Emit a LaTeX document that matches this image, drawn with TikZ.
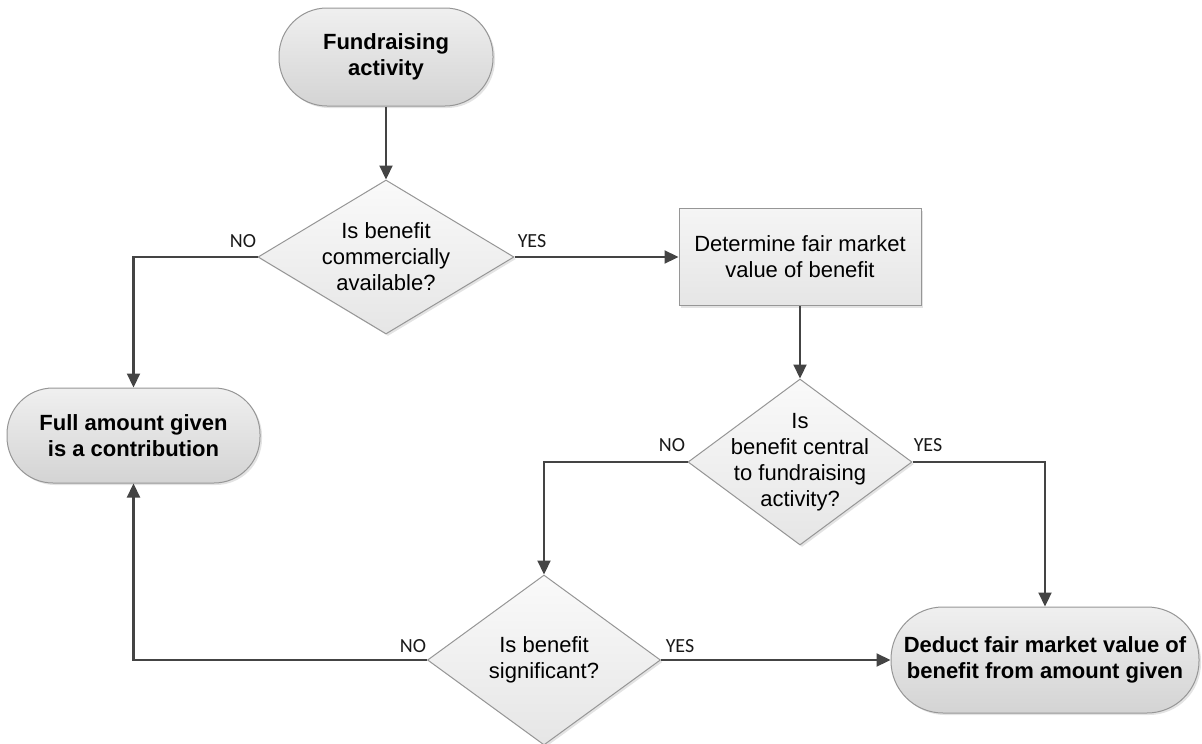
\documentclass[tikz,border=0pt]{standalone}
\usepackage{fontspec}
\setmainfont{Liberation Sans}
\newfontfamily\lblfont{Carlito}
\usetikzlibrary{arrows.meta,shapes.geometric,shadows}
\definecolor{conn}{RGB}{68,68,68}
\definecolor{edge}{RGB}{150,150,150}
\tikzset{
  shad/.style={drop shadow={shadow xshift=2pt,shadow yshift=-2pt,opacity=0.22}},
  term/.style={draw=edge, line width=1pt, rectangle, rounded corners=#1,
    top color=black!6, bottom color=black!17, shad,
    font=\fontsize{22}{25.5}\selectfont\bfseries, align=center, inner sep=0pt},
  dia/.style={draw=edge, line width=1pt, diamond, inner sep=0pt,
    top color=black!2, bottom color=black!10, shad},
  dtext/.style={font=\fontsize{22}{26}\selectfont, align=center, inner sep=0pt},
  procbox/.style={draw=edge, line width=1pt, rectangle,
    top color=black!4, bottom color=black!10, shad,
    font=\fontsize{22}{26}\selectfont, align=center, inner sep=0pt},
  arr/.style={draw=conn, line width=2.2pt, -{Triangle[length=14pt,width=13pt]}},
  lbl/.style={font=\lblfont\fontsize{20}{22}\selectfont, inner sep=0pt, text=black!90}
}
\begin{document}
\begin{tikzpicture}[x=1pt,y=-1pt]
\useasboundingbox (0,0) rectangle (1202,744);
% nodes
\node[term=48pt, minimum width=214pt, minimum height=98pt] (t1) at (386,57) {Fundraising\\activity};
\node[dia, minimum width=256pt, minimum height=154pt,
  label={[dtext]center:{Is benefit\\commercially\\available?}}] (d1) at (386,257) {};
\node[procbox, minimum width=242pt, minimum height=97pt] (r1) at (800,257) {Determine fair market\\value of benefit};
\node[term=46pt, minimum width=253pt, minimum height=95pt] (t2) at (133.5,435.5) {Full amount given\\is a contribution};
\node[dia, minimum width=224pt, minimum height=166pt,
  label={[dtext]center:{Is\\benefit central\\to fundraising\\activity?}}] (d2) at (800,462) {};
\node[dia, minimum width=233pt, minimum height=170pt,
  label={[dtext]center:{Is benefit\\significant?}}] (d3) at (544,660) {};
\node[term=52pt, minimum width=308pt, minimum height=106pt] (t3) at (1045,660) {Deduct fair market value of\\benefit from amount given};
% labels
\node[lbl] (l1) at (243,241) {NO};
\node[lbl] (l2) at (532,241) {YES};
\node[lbl] (l3) at (672,445) {NO};
\node[lbl] (l4) at (928,445) {YES};
\node[lbl] (l5) at (413,646) {NO};
\node[lbl] (l6) at (680,646) {YES};
% connectors
\draw[arr] (t1.south) -- (d1.north);
\draw[arr] (d1.west) -| (t2.north);
\draw[arr] (d1.east) -- (r1.west);
\draw[arr] (r1.south) -- (d2.north);
\draw[arr] (d2.west) -| (d3.north);
\draw[arr] (d2.east) -| (t3.north);
\draw[arr] (d3.east) -- (t3.west);
\draw[arr] (d3.west) -| (t2.south);
\end{tikzpicture}
\end{document}
